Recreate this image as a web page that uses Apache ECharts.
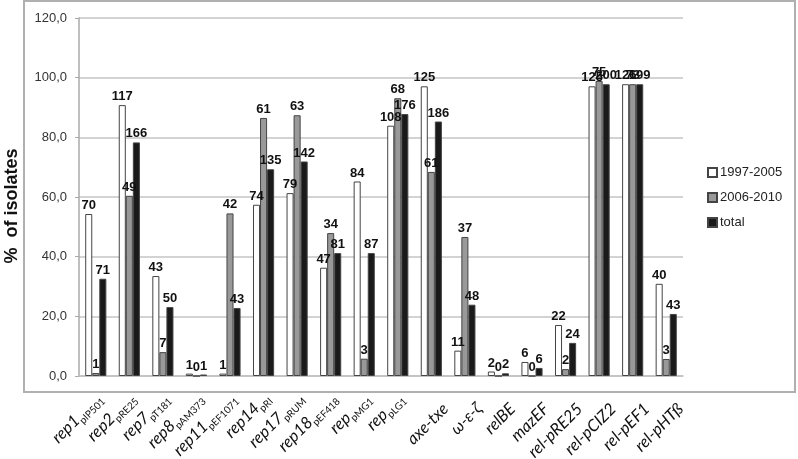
<!DOCTYPE html>
<html><head><meta charset="utf-8">
<script src="https://cdn.jsdelivr.net/npm/echarts@6/dist/echarts.min.js"></script>
<style>html,body{margin:0;padding:0;background:#fff}#c{width:798px;height:459px}</style>
</head><body><div id="c"></div>
<script>
const catMain = ['rep1','rep2','rep7','rep8','rep11','rep14','rep17','rep18','rep','rep','axe-txe','ω-ε-ζ','relBE','mazEF','rel-pRE25','rel-pCIZ2','rel-pEF1','rel-pHTß'];
const catSub = ['pIP501','pRE25','pT181','pAM373','pEF1071','pRI','pRUM','pEF418','pMG1','pLG1','','','','','','','',''];
const seriesNames = ['1997-2005','2006-2010','total'];
const pct1 = [54.3,90.8,33.5,0.8,0.8,57.4,61.3,36.3,65.2,83.9,97.1,8.5,1.5,4.7,17.1,97.1,97.8,30.9];
const pct2 = [1.0,60.4,8.0,0,54.5,86.5,87.4,47.9,5.8,93.1,68.4,46.6,0,0,2.3,98.9,97.8,5.7];
const pctT = [32.6,78.3,23.1,0.5,22.8,69.3,71.9,41.2,41.2,87.8,85.3,23.9,0.9,2.7,11.1,97.8,97.8,20.8];
const cnt1 = [70,117,43,1,1,74,79,47,84,108,125,11,2,6,22,125,126,40];
const cnt2 = [1,49,7,0,42,61,63,34,3,68,61,37,0,0,2,75,73,3];
const cntT = [71,166,50,1,43,135,142,81,87,176,186,48,2,6,24,200,199,43];
const yMin = 0, yMax = 120, yStep = 20;
const yTitle = '%  of isolates';

const FONT = 'Liberation Sans, Arial, sans-serif';
const XFONT = 'Lato, Liberation Sans, sans-serif';
const cats = catMain.map((m, i) => {
  const hasSub = !!catSub[i];
  return {
    value: hasSub ? '{m|' + m + '}{s|' + catSub[i] + '}' : '{m|' + m + '}',
    textStyle: {padding: [hasSub ? 10 : 40, 0, 0, 0]}
  };
});

const chart = echarts.init(document.getElementById('c'), null, {renderer: 'canvas'});
const lblFont = {fontFamily: FONT, fontWeight: 'bold', fontSize: 13, color: '#111'};
function mk(name, vals, cnts, fill) {
  return {
    name: name, type: 'bar', data: vals,
    barGap: '0%', barCategoryGap: '37%',
    itemStyle: {color: fill, borderColor: '#444', borderWidth: 1},
    label: Object.assign({show: true, position: 'top', distance: 2,
      formatter: p => String(cnts[p.dataIndex])}, lblFont)
  };
}
chart.setOption({
  animation: false,
  backgroundColor: '#fff',
  grid: {left: 79, right: 115, top: 18, bottom: 83, containLabel: false, outerBoundsMode: 'none'},
  legend: {
    orient: 'vertical', left: 702, top: 161, itemWidth: 9, itemHeight: 9, itemGap: 12,
    icon: 'rect',
    textStyle: {fontFamily: FONT, fontSize: 13, color: '#222', padding: [0, 0, 0, -2]},
    data: seriesNames
  },
  xAxis: {
    type: 'category', data: cats,
    axisLine: {show: true, lineStyle: {color: '#c0c0c0', width: 1.5}},
    axisTick: {show: false},
    axisLabel: {
      interval: 0, rotate: 45, margin: 16,
      rich: {
        m: {fontFamily: XFONT, fontStyle: 'italic', fontSize: 16.5, color: '#111', lineHeight: 22},
        s: {fontFamily: XFONT, fontSize: 10, color: '#111', lineHeight: 11, verticalAlign: 'bottom'}
      }
    }
  },
  yAxis: {
    type: 'value', min: yMin, max: yMax, interval: yStep,
    axisLine: {show: true, lineStyle: {color: '#aaa', width: 1.5}},
    axisTick: {show: true, length: 4, lineStyle: {color: '#aaa'}},
    splitLine: {lineStyle: {color: '#c4c4c4', width: 1.5}},
    axisLabel: {margin: 12, fontFamily: FONT, fontSize: 13, color: '#333',
      formatter: v => v.toFixed(1).replace('.', ',')}
  },
  graphic: [
    {type: 'rect', z: -10, shape: {x: 24, y: 1, width: 771, height: 391}, style: {fill: 'none', stroke: '#b0b0b0', lineWidth: 2}},
    {type: 'text', x: 12.5, y: 206, rotation: Math.PI / 2,
     style: {text: yTitle, font: 'bold 18px "Liberation Sans", Arial, sans-serif', fill: '#111', align: 'center', verticalAlign: 'middle'}}
  ],
  series: [
    mk(seriesNames[0], pct1, cnt1, '#ffffff'),
    mk(seriesNames[1], pct2, cnt2, '#999999'),
    mk(seriesNames[2], pctT, cntT, '#1a1a1a')
  ]
});
</script></body></html>
